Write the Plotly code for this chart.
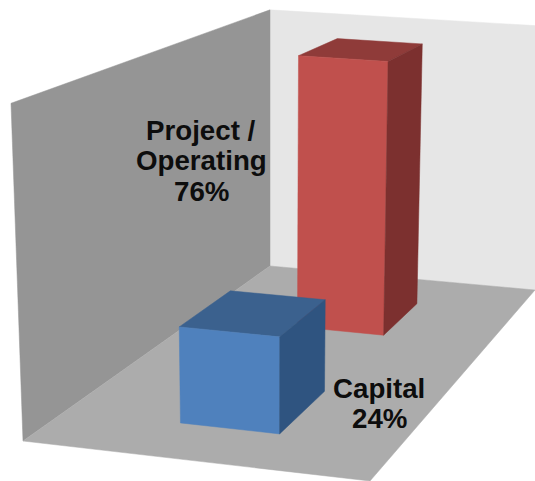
import numpy as np
import plotly.graph_objects as go

# Data
categories = ["Capital", "Project / Operating"]
shares = [24, 76]
label_lines = [["Capital", "24%"], ["Project /", "Operating", "76%"]]

# Depth axis slot of each series, as fractions of the floor depth
series_depth_centre = [0.2375, 0.745]
bar_depth = 0.2
bar_x_span = (0.352, 0.65)
value_axis_max = 79.3

# Camera: homogeneous projection of (across, depth, height fraction, 1) to pixels
CAMERA = np.array([
    [331.6, 337.54, -12.51, 23.0],
    [19.98, -85.8, -342.5, 441.0],
    [-0.04163, 0.33535, -0.0463, 1.0],
])


def project(points):
    pts = np.column_stack([np.asarray(points, float), np.ones(len(points))])
    pts[:, 2] /= value_axis_max
    h = pts @ CAMERA.T
    return h[:, 0] / h[:, 2], h[:, 1] / h[:, 2]


fig = go.Figure()


def face(points, color, name):
    x, y = project(points)
    fig.add_trace(go.Scatter(
        x=list(x) + [x[0]], y=list(y) + [y[0]], mode="lines", fill="toself",
        fillcolor=color, line=dict(color=color, width=0.5), name=name,
        hoverinfo="name", showlegend=False,
    ))


M = value_axis_max
face([(0, 1, 0), (1.2, 1, 0), (1.2, 1, M), (0, 1, M)], "#E6E6E6", "Back wall")
face([(0, 0, 0), (0, 1, 0), (0, 1, M), (0, 0, M)], "#959595", "Side wall")
face([(0, 0, 0), (1, 0, 0), (1, 1, 0), (0, 1, 0)], "#ACACAC", "Floor")

x0, x1 = bar_x_span
bar_styles = {
    "Capital": ("#4F81BD", "#3B618E", "#2F5480"),
    "Project / Operating": ("#C0504D", "#8F3B39", "#7C302F"),
}
# far series first so that the near one covers it
for i in reversed(range(len(categories))):
    cat, v = categories[i], shares[i]
    y0 = series_depth_centre[i] - bar_depth / 2
    y1 = series_depth_centre[i] + bar_depth / 2
    front, top, side = bar_styles[cat]
    face([(x0, y1, v), (x1, y1, v), (x1, y0, v), (x0, y0, v)], top, cat)
    face([(x0, y0, 0), (x1, y0, 0), (x1, y0, v), (x0, y0, v)], front, cat)
    face([(x1, y0, 0), (x1, y1, 0), (x1, y1, v), (x1, y0, v)], side, cat)

label_anchor = {0: (379, [388, 418]), 1: (201, [130, 160, 191])}
annotations = []
for i, lines in enumerate(label_lines):
    lx, lys = label_anchor[i]
    for line, ly in zip(lines, lys):
        annotations.append(dict(
            x=lx, y=ly, xref="x", yref="y", text=line, showarrow=False,
            xanchor="center", yanchor="middle",
            font=dict(family="Liberation Sans", size=27.7, color="#0D0D0D", weight="bold"),
        ))

fig.update_layout(
    width=535, height=481, margin=dict(l=0, r=0, t=0, b=0),
    paper_bgcolor="white", plot_bgcolor="white",
    xaxis=dict(range=[0, 535], visible=False, fixedrange=True),
    yaxis=dict(range=[481, 0], visible=False, fixedrange=True),
    annotations=annotations, showlegend=False,
)
fig.write_html(
    "out.html",
    config={"displayModeBar": False},
    post_script="document.body.style.margin='0';document.documentElement.style.overflow='hidden';",
)
